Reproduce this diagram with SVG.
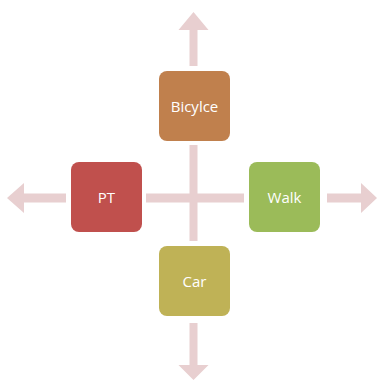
<svg xmlns="http://www.w3.org/2000/svg" width="377" height="380" viewBox="0 0 377 380">
<style>
.arr{fill:#E8CFD0;stroke:none}
.box{stroke:none}
.lbl{font-family:"Open Sans","Liberation Sans",sans-serif;font-size:15px;fill:#FFFFFF;text-anchor:middle;dominant-baseline:central}
</style>
<rect width="377" height="380" fill="#FFFFFF"/>
<g id="connectors">
<path class="arr" d="M193.5,12 L208.5,30 L197.5,30 L197.5,66 L189.5,66 L189.5,30 L178.5,30 Z"/>
<rect class="arr" x="189.5" y="145" width="8" height="96"/>
<path class="arr" d="M193.5,380 L208.5,365 L197.5,365 L197.5,323 L189.5,323 L189.5,365 L178.5,365 Z"/>
<path class="arr" d="M7,198 L24,183 L24,193.5 L66,193.5 L66,202.5 L24,202.5 L24,213 Z"/>
<rect class="arr" x="146" y="193.5" width="98" height="9"/>
<path class="arr" d="M377,198 L361,183 L361,193.5 L327,193.5 L327,202.5 L361,202.5 L361,213 Z"/>
</g>
<g id="bicycle">
<rect class="box" x="159" y="71" width="71" height="70" rx="8" fill="#C0804D"/>
<text class="lbl" x="194.5" y="106">Bicylce</text>
</g>
<g id="pt">
<rect class="box" x="71" y="162" width="71" height="70" rx="8" fill="#C0504D"/>
<text class="lbl" x="106.5" y="197">PT</text>
</g>
<g id="walk">
<rect class="box" x="249" y="162" width="71" height="70" rx="8" fill="#9BBB59"/>
<text class="lbl" x="284.5" y="197">Walk</text>
</g>
<g id="car">
<rect class="box" x="159" y="246" width="71" height="70" rx="8" fill="#BFB256"/>
<text class="lbl" x="194.5" y="281">Car</text>
</g>
</svg>
